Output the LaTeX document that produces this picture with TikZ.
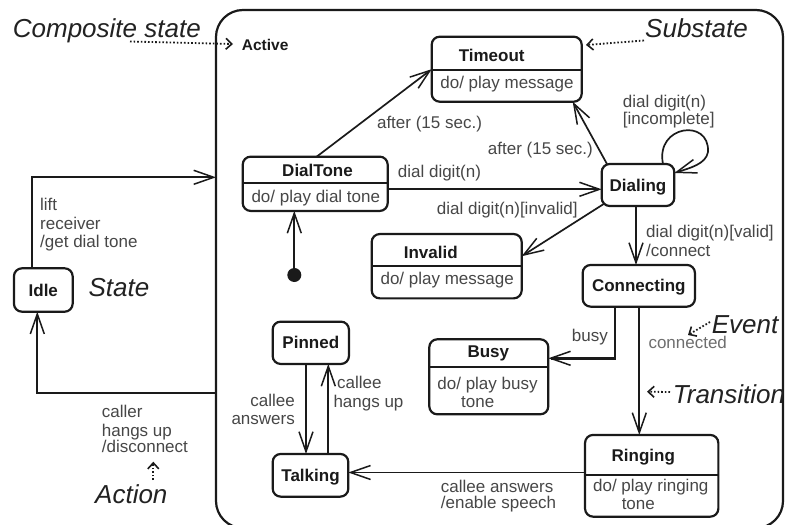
\documentclass[tikz,border=0pt]{standalone}
\usepackage{fontspec}
\setmainfont{Liberation Sans}
\usetikzlibrary{arrows.meta}
\definecolor{ink}{HTML}{1A1A1A}
\definecolor{labelgray}{HTML}{474747}
\definecolor{softgray}{HTML}{6E6E6E}
\definecolor{notegray}{HTML}{222222}

\begin{document}
\begin{tikzpicture}[x=1pt, y=-1pt,
  state/.style={draw=ink, line width=2.2pt, rounded corners=8pt, inner sep=0pt, outer sep=0pt,
    font=\fontsize{17}{17}\selectfont\bfseries, text=ink, text height=12.2pt, text depth=0pt},
  divider/.style={draw=ink, line width=1.7pt},
  sname/.style={font=\fontsize{17}{17}\selectfont\bfseries, text=ink, inner sep=0pt,
    text height=12.2pt, text depth=0pt},
  lbl/.style={font=\fontsize{17}{17}\selectfont, text=labelgray, inner sep=0pt,
    text height=12.2pt, text depth=0pt},
  note/.style={font=\fontsize{26}{26}\selectfont\itshape, text=notegray, inner sep=0pt, anchor=base west},
  trans/.style={draw=ink, line width=1.7pt,
    -{Straight Barb[length=20pt,width=14pt,line width=1.5pt]}},
  noteline/.style={draw=ink, line width=1.8pt, dash pattern=on 1.6pt off 2pt,
    -{Straight Barb[length=6pt,width=11pt,line width=1.6pt]}},
]
\useasboundingbox[fill=white] (0,0) rectangle (785,525);

% ---- composite state ----
\node[draw=ink, line width=2.2pt, rounded corners=27pt, minimum width=567pt, minimum height=518pt,
  inner sep=0pt, outer sep=0pt] (active) at (499.5,269) {};
\node[sname, font=\fontsize{15.5}{15.5}\selectfont\bfseries, text height=11.1pt, anchor=west]
  (activename) at (241.7,45) {Active};

% ---- simple states ----
\node[state, minimum width=58.7pt, minimum height=43.4pt] (idle) at (43.3,290) {Idle};
\node[state, minimum width=72.6pt, minimum height=42pt] (dialing) at (638,185) {Dialing};
\node[state, minimum width=112.3pt, minimum height=41.7pt] (connecting) at (638.8,285.8) {Connecting};
\node[state, minimum width=76.3pt, minimum height=42.3pt] (pinned) at (310.8,342.8) {Pinned};
\node[state, minimum width=75.6pt, minimum height=42.7pt] (talking) at (310.5,475.3) {Talking};

% ---- states with a do-activity compartment ----
\node[state, minimum width=150pt, minimum height=65pt] (timeout) at (506.7,69.2) {};
\coordinate (timeoutdiv) at (0,70);
\draw[divider] (timeout.west |- timeoutdiv) -- (timeout.east |- timeoutdiv);
\node[sname] (timeoutname) at (491.7,55) {Timeout};
\node[lbl] (timeoutdo) at (507,82) {do/ play message};

\node[state, minimum width=145pt, minimum height=54.3pt] (dialtone) at (315.2,183.8) {};
\coordinate (dialtonediv) at (0,183.3);
\draw[divider] (dialtone.west |- dialtonediv) -- (dialtone.east |- dialtonediv);
\node[sname] (dialtonename) at (317.5,170) {DialTone};
\node[lbl] (dialtonedo) at (315.8,196.7) {do/ play dial tone};

\node[state, minimum width=150pt, minimum height=64.3pt] (invalid) at (446.7,266.2) {};
\coordinate (invaliddiv) at (0,266);
\draw[divider] (invalid.west |- invaliddiv) -- (invalid.east |- invaliddiv);
\node[sname] (invalidname) at (430.8,252.7) {Invalid};
\node[lbl] (invaliddo) at (447.2,278.3) {do/ play message};

\node[state, minimum width=119pt, minimum height=75pt] (busy) at (488.8,376.8) {};
\coordinate (busydiv) at (0,366.7);
\draw[divider] (busy.west |- busydiv) -- (busy.east |- busydiv);
\node[sname] (busyname) at (488.3,351.7) {Busy};
\node[lbl] (busydoA) at (487.5,383.5) {do/ play busy};
\node[lbl] (busydoB) at (477.7,401) {tone};

\node[state, minimum width=133.3pt, minimum height=81.7pt] (ringing) at (651.7,475.8) {};
\coordinate (ringingdiv) at (0,475);
\draw[divider] (ringing.west |- ringingdiv) -- (ringing.east |- ringingdiv);
\node[sname] (ringingname) at (643.3,455) {Ringing};
\node[lbl] (ringingdoA) at (650.8,485.8) {do/ play ringing};
\node[lbl] (ringingdoB) at (638.3,503) {tone};

% ---- initial pseudostate ----
\node[circle, fill=ink, minimum size=14pt, inner sep=0pt] (init) at (294.3,275) {};

% ---- transitions ----
\coordinate (idleUp) at (32.3,177.3);
\draw[trans] (idle.north -| idleUp) -- (idleUp) -- (idleUp -| active.west);
\coordinate (idleDown) at (37.3,392.7);
\draw[trans] (idleDown -| active.west) -- (idleDown) -- (idleDown |- idle.south);

\draw[trans] (init) -- (init |- dialtone.south);
\draw[trans] ([xshift=1.5pt]dialtone.north) -- (timeout.west);
\draw[trans] ([xshift=-31pt]dialing.north) -- ([xshift=66pt]timeout.south);
\draw[trans] ([xshift=25pt]dialing.north) .. controls (655,125) and (710,118) .. (708,152)
  .. controls (706,164) and (690,168) .. ([yshift=12pt]dialing.east);

\coordinate (ddRow) at (0,189.3);
\draw[trans] (dialtone.east |- ddRow) -- (dialing.west |- ddRow);
\draw[trans] ([xshift=2pt,yshift=2pt]dialing.south west) -- ([yshift=10pt]invalid.east);

\coordinate (dcX) at (636,0);
\draw[trans] (dialing.south -| dcX) -- (connecting.north -| dcX);

\coordinate (busyBend) at (615,358.3);
\draw[trans, line width=2.4pt] (connecting.south -| busyBend) -- (busyBend) -- (busyBend -| busy.east);

\coordinate (crX) at (639.3,0);
\draw[trans] (connecting.south -| crX) -- (ringing.north -| crX);

\coordinate (rtRow) at (0,472.5);
\draw[trans] (ringing.west |- rtRow) -- (talking.east |- rtRow);

\coordinate (ptX) at (306,0);
\coordinate (tpX) at (328.3,0);
\draw[trans] (pinned.south -| ptX) -- (talking.north -| ptX);
\draw[trans] (talking.north -| tpX) -- (pinned.south -| tpX);

% ---- transition labels ----
\node[lbl, anchor=west] (liftA) at (40,204) {lift};
\node[lbl, anchor=west] (liftB) at (40,223) {receiver};
\node[lbl, anchor=west] (liftC) at (40,241.5) {/get dial tone};

\node[lbl, anchor=west] (hangA) at (101.7,411.7) {caller};
\node[lbl, anchor=west] (hangB) at (101.7,430) {hangs up};
\node[lbl, anchor=west] (hangC) at (101.7,446.7) {/disconnect};

\node[lbl] (afterA) at (429.5,122) {after (15 sec.)};
\node[lbl, anchor=east] (afterB) at (593,148.3) {after (15 sec.)};
\node[lbl, anchor=west] (digitlbl) at (397.7,171.7) {dial digit(n)};
\node[lbl, anchor=west] (invalidlbl) at (436.7,208.3) {dial digit(n)[invalid]};
\node[lbl, anchor=west] (loopA) at (622.7,101.7) {dial digit(n)};
\node[lbl, anchor=west] (loopB) at (622.7,118.3) {[incomplete]};
\node[lbl, anchor=west] (validA) at (646,231.7) {dial digit(n)[valid]};
\node[lbl, anchor=west] (validB) at (646,250) {/connect};
\node[lbl, anchor=west] (busylbl) at (571.7,335) {busy};
\node[lbl, anchor=west, text=softgray] (connectedlbl) at (648.3,342.7) {connected};

\node[lbl, anchor=east] (answerA) at (295,400) {callee};
\node[lbl, anchor=east] (answerB) at (295,418.3) {answers};
\node[lbl, anchor=west] (hangsA) at (337,382.7) {callee};
\node[lbl, anchor=west] (hangsB) at (333.3,401.7) {hangs up};
\node[lbl, anchor=west] (speechA) at (440.7,486) {callee answers};
\node[lbl, anchor=west] (speechB) at (440.7,502.7) {/enable speech};

% ---- notation notes ----
\node[note] (compnote) at (12.7,37.5) {Composite state};
\node[note] (subnote) at (645,37.5) {Substate};
\node[note] (statenote) at (88.3,296.7) {State};
\node[note] (eventnote) at (711.7,333.3) {Event};
\node[note] (transnote) at (672.7,403.3) {Transition};
\node[note] (actionnote) at (95,503.3) {Action};

\coordinate (compTail) at (130,41.5);   \coordinate (compTip) at (233,44);
\coordinate (subTail) at (644,40.5);    \coordinate (subTip) at (586,45);
\coordinate (eventTail) at (710,322);   \coordinate (eventTip) at (688,335);
\coordinate (transTail) at (670,392);   \coordinate (transTip) at (647,391.7);
\coordinate (actionTail) at (153.3,480);\coordinate (actionTip) at (153.3,461.7);
\draw[noteline] (compTail) -- (compTip);
\draw[noteline] (subTail) -- (subTip);
\draw[noteline] (eventTail) -- (eventTip);
\draw[noteline] (transTail) -- (transTip);
\draw[noteline] (actionTail) -- (actionTip);
\end{tikzpicture}
\end{document}
